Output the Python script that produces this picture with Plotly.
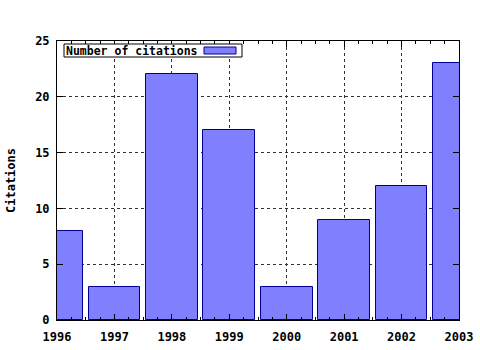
import plotly.graph_objects as go

years = [1996, 1997, 1998, 1999, 2000, 2001, 2002, 2003]
citations = [8, 3, 22, 17, 3, 9, 12, 23]
x_ticks = years
y_ticks = [0, 5, 10, 15, 20, 25]
series_name = "Number of citations"
y_title = "Citations"

font = dict(family="DejaVu Sans Mono", size=12, color="black", weight="bold")

fig = go.Figure()
fig.add_trace(go.Bar(
    x=years, y=citations, width=0.9, name=series_name,
    marker=dict(color="#8080ff", line=dict(color="#000090", width=1)),
    showlegend=False,
))

fig.update_layout(
    width=480, height=350,
    margin=dict(l=57, r=21, t=41, b=30, autoexpand=False),
    paper_bgcolor="white", plot_bgcolor="white",
    font=font,
    bargap=0,
)
fig.update_xaxes(
    range=[1996, 2003], tickvals=x_ticks, ticktext=[str(v) for v in x_ticks],
    ticks="inside", ticklen=6, tickcolor="black", mirror="ticks",
    showline=True, linecolor="black", linewidth=1,
    showgrid=True, gridcolor="#333333", griddash="dot", gridwidth=1,
    zeroline=False, tickfont=font, ticklabelstandoff=6, automargin=False,
    minor=dict(dtick=0.25, tick0=1996, ticks="inside", ticklen=3, tickcolor="black", showgrid=False),
)
fig.update_yaxes(
    range=[0, 25], tickvals=y_ticks,
    ticks="inside", ticklen=6, tickcolor="black", mirror="ticks",
    showline=True, linecolor="black", linewidth=1,
    showgrid=True, gridcolor="#333333", griddash="dot", gridwidth=1,
    zeroline=False, tickfont=font, automargin=False, ticklabelstandoff=4,
    title=dict(text=y_title, font=font, standoff=16),
)

# legend box drawn manually (text then sample swatch, like the original)
fig.add_shape(type="rect", xref="paper", yref="paper",
              x0=(64-57)/402, x1=(242-57)/402, y0=(320-57)/279, y1=(320-44)/279,
              line=dict(color="black", width=1), fillcolor="white", layer="above")
fig.add_shape(type="rect", xref="paper", yref="paper",
              x0=(204-57)/402, x1=(236-57)/402, y0=(320-54)/279, y1=(320-47)/279,
              line=dict(color="#000090", width=1), fillcolor="#8080ff", layer="above")
fig.add_annotation(text=series_name, xref="paper", yref="paper",
                   x=(64-57)/402, y=(320-50.5)/279, xanchor="left", yanchor="middle",
                   showarrow=False, font=dict(family="DejaVu Sans Mono", size=11.5, color="black", weight="bold"))

fig.write_html("out.html")
